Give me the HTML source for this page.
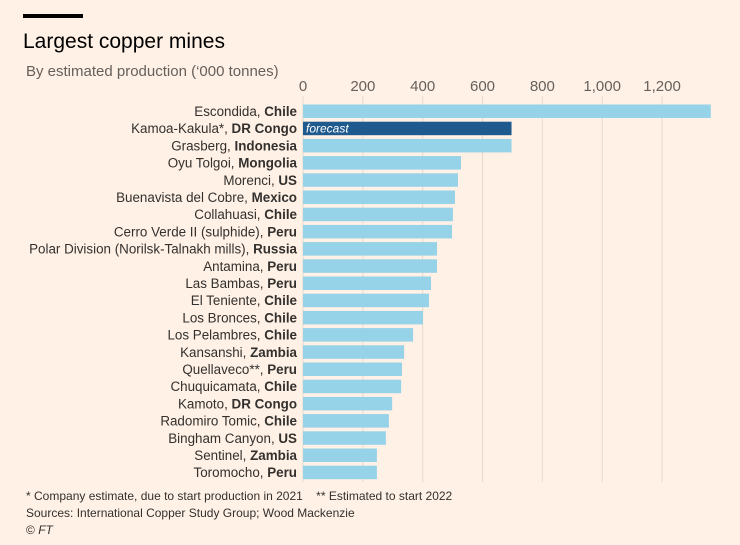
<!DOCTYPE html>
<html><head><meta charset="utf-8"><style>
body{margin:0;background:#fff1e5;font-family:"Liberation Sans",sans-serif;}
#wrap{position:relative;width:740px;height:545px;overflow:hidden;background:#fff1e5;}
</style></head><body>
<div id="wrap">
<svg id="chart" width="740" height="545">
<rect x="23" y="14" width="60" height="4" fill="#000"/>
<text x="23" y="48" font-size="21" fill="#000">Largest copper mines</text>
<text x="26" y="76" font-size="15" fill="#66605c">By estimated production (‘000 tonnes)</text>
<g id="grid"></g><g id="bars"></g><g id="labels"></g>
<text x="26" y="500" font-size="12" fill="#33302e" xml:space="preserve">* Company estimate, due to start production in 2021    ** Estimated to start 2022</text>
<text x="26" y="517" font-size="12" fill="#33302e">Sources: International Copper Study Group; Wood Mackenzie</text>
<text x="26" y="534" font-size="12" fill="#33302e">© <tspan font-style="italic">FT</tspan></text>
</svg></div>
<script>
const mines=["Escondida","Kamoa-Kakula*","Grasberg","Oyu Tolgoi","Morenci","Buenavista del Cobre","Collahuasi","Cerro Verde II (sulphide)","Polar Division (Norilsk-Talnakh mills)","Antamina","Las Bambas","El Teniente","Los Bronces","Los Pelambres","Kansanshi","Quellaveco**","Chuquicamata","Kamoto","Radomiro Tomic","Bingham Canyon","Sentinel","Toromocho"];
const countries=["Chile","DR Congo","Indonesia","Mongolia","US","Mexico","Chile","Peru","Russia","Peru","Peru","Chile","Chile","Chile","Zambia","Peru","Chile","DR Congo","Chile","US","Zambia","Peru"];
const production=[1363,697,697,528,518,508,501,498,448,448,428,421,401,368,338,331,328,298,287,277,247,247];
const ticks=[0,200,400,600,800,1000,1200];
const tickLabels=["0","200","400","600","800","1,000","1,200"];
const NS="http://www.w3.org/2000/svg";
const x0=303,kx=0.2992,y0=104.5,step=17.2,bh=13.5;
const xs=v=>x0+v*kx, ys=i=>y0+i*step;
function mk(t,a,p){const e=document.createElementNS(NS,t);for(const k in a)e.setAttribute(k,a[k]);p.appendChild(e);return e;}
const grid=document.getElementById('grid'),bars=document.getElementById('bars'),labels=document.getElementById('labels');
ticks.forEach((t,i)=>{
 const l=mk('line',{x1:xs(t),x2:xs(t),y1:96,y2:482,stroke:'#e6d9ce','stroke-width':1},grid);
 
 
 const tx=mk('text',{x:xs(t),y:91,'font-size':15,fill:'#66605c','text-anchor':'middle'},grid);
 tx.textContent=tickLabels[i];
 
 
});
mines.forEach((m,i)=>{
 const r=mk('rect',{x:x0,y:ys(i),width:xs(production[i])-x0,height:bh,fill:i===1?'#1f5a8e':'#96d2e8'},bars);
 
 
 const t=mk('text',{x:297,y:ys(i)+11.5,'font-size':13.4,fill:'#33302e','text-anchor':'end'},labels);
 t.innerHTML=m+', <tspan font-weight="bold">'+countries[i]+'</tspan>';
 
 
});
const f=mk('text',{x:306,y:ys(1)+11,'font-size':12,fill:'#fff','font-style':'italic'},labels);
f.textContent='forecast';


</script>
</body></html>
